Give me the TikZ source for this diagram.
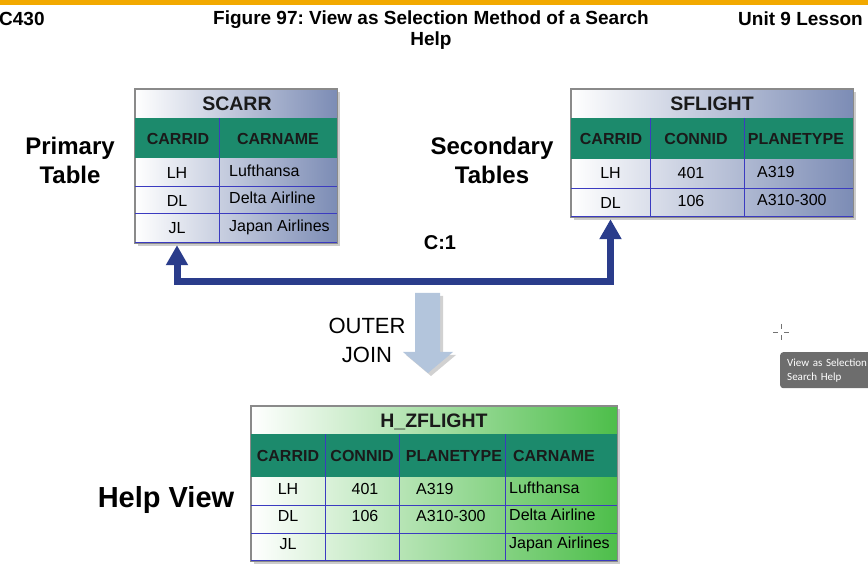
\documentclass[tikz,border=0pt]{standalone}
\usepackage{fontspec}
\setmainfont{Liberation Sans}
\newfontfamily\tipfont{Carlito}
\usetikzlibrary{shadows,arrows.meta}
\frenchspacing
\definecolor{orangebar}{HTML}{F2A900}
\definecolor{hdrgreen}{HTML}{1C8A6C}
\definecolor{framegray}{HTML}{8A8A8A}
\definecolor{sepblue}{HTML}{3B3BC0}
\definecolor{slateR}{HTML}{7C8CB5}
\definecolor{hzR}{HTML}{4DBE4A}
\definecolor{relblue}{HTML}{2A3C8B}
\definecolor{joinblue}{HTML}{B3C5DC}
\definecolor{tipgray}{HTML}{6D6D6D}
\definecolor{txtdark}{HTML}{1A1A1A}
\tikzset{
  tbl/.style={draw=framegray, line width=0.8pt, inner sep=0pt,
    drop shadow={shadow xshift=3pt, shadow yshift=-3pt, fill=black!40, opacity=0.5}},
  sepline/.style={draw=sepblue, line width=0.8pt},
  ttl/.style={font=\fontsize{19.5}{20}\selectfont\bfseries, text=txtdark, inner sep=0pt, text height=14pt, text depth=0pt},
  hdr/.style={font=\fontsize{16}{16}\selectfont\bfseries, text=txtdark, inner sep=0pt, text height=11.5pt, text depth=0pt},
  dat/.style={font=\fontsize{16}{16}\selectfont, text=black, inner sep=0pt, text height=11.5pt, text depth=0pt},
  datl/.style={dat, anchor=west},
  keycell/.style={dat, minimum width=#1},
  side/.style={font=\fontsize{24}{29}\selectfont\bfseries, align=center, text=black},
  hfont/.style={font=\fontsize{19}{21}\selectfont\bfseries, text=black},
  relarrow/.style={draw=relblue, line width=7pt, line join=miter,
    {Triangle[width=21pt,length=20pt]}-{Triangle[width=21pt,length=20pt]}},
}
\begin{document}
\begin{tikzpicture}[x=1pt,y=-1pt]
\useasboundingbox (0,0) rectangle (868,569);
\clip (0,0) rectangle (868,569);
\fill[orangebar] (0,0) rectangle (868,5);

% header texts
\node[hfont, anchor=west, inner sep=0pt] (course) at (-1,19) {C430};
\node[hfont, align=center, inner sep=0pt] (title) at (431,30) {Figure 97: View as Selection Method of a Search\\Help};
\node[hfont, anchor=east, inner sep=0pt] (unit) at (863,19) {Unit 9 Lesson};

% side labels
\node[side] (primary) at (70,160) {Primary\\Table};
\node[side] (secondary) at (492,160) {Secondary\\Tables};
\node[side, font=\fontsize{29}{30}\selectfont\bfseries] (helpview) at (166,500) {Help View};

% ---------- SCARR ----------
\node[tbl, left color=white, right color=slateR, minimum width=202pt, minimum height=154pt] (scarr) at (236,166) {};
\fill[hdrgreen] (135,118) rectangle (337,158);
\draw[sepline] (219,118) -- (219,243);
\draw[sepline] (135,186) -- (337,186);
\draw[sepline] (135,213) -- (337,213);
\draw[sepline] (135,242.5) -- (337,242.5);
\draw[framegray, line width=0.8pt] (scarr.north west) rectangle (scarr.south east);
\node[ttl] (scT) at (237,104) {SCARR};
\node[hdr] (scH1) at (178,139) {CARRID};
\node[hdr] (scH2) at (278,139) {CARNAME};
\node[keycell=84pt, minimum height=28pt] (scLH) at (177,173) {LH};
\node[keycell=84pt, minimum height=27pt] (scDL) at (177,200.5) {DL};
\node[keycell=84pt, minimum height=30pt] (scJL) at (177,228) {JL};
\node[datl] (scN1) at (229,171) {Lufthansa};
\node[datl] (scN2) at (229,198) {Delta Airline};
\node[datl] (scN3) at (229,226) {Japan Airlines};

% ---------- SFLIGHT ----------
\node[tbl, left color=white, right color=slateR, minimum width=282pt, minimum height=128pt] (sflight) at (712,153) {};
\fill[hdrgreen] (571,118) rectangle (853,159);
\draw[sepline] (650,118) -- (650,217);
\draw[sepline] (744,118) -- (744,217);
\draw[sepline] (571,188) -- (853,188);
\draw[sepline] (571,216.5) -- (853,216.5);
\draw[framegray, line width=0.8pt] (sflight.north west) rectangle (sflight.south east);
\node[ttl] (sfT) at (712,104) {SFLIGHT};
\node[hdr] (sfH1) at (611,139) {CARRID};
\node[hdr] (sfH2) at (696,139) {CONNID};
\node[hdr] (sfH3) at (796,139) {PLANETYPE};
\node[keycell=79pt, minimum height=29pt] (sfLH) at (610.5,173) {LH};
\node[keycell=79pt, minimum height=29pt] (sfDL) at (610.5,202.5) {DL};
\node[dat] (sfC1) at (691,172.5) {401};
\node[dat] (sfC2) at (691,200.5) {106};
\node[datl] (sfP1) at (757,172) {A319};
\node[datl] (sfP2) at (757,200) {A310-300};

% ---------- H_ZFLIGHT ----------
\node[tbl, left color=white, middle color=white!78!hzR, right color=hzR, minimum width=366pt, minimum height=155pt] (hz) at (434,483.5) {};
\fill[hdrgreen] (251,434) rectangle (617,477);
\draw[sepline] (325,434) -- (325,561);
\draw[sepline] (399,434) -- (399,561);
\draw[sepline] (505,434) -- (505,561);
\draw[sepline] (251,505) -- (617,505);
\draw[sepline] (251,533) -- (617,533);
\draw[sepline] (251,560.5) -- (617,560.5);
\draw[framegray, line width=0.8pt] (hz.north west) rectangle (hz.south east);
\node[ttl] (hzT) at (434,421) {H\_ZFLIGHT};
\node[hdr] (hzH1) at (288,455.5) {CARRID};
\node[hdr] (hzH2) at (362,455.5) {CONNID};
\node[hdr] (hzH3) at (454,455.5) {PLANETYPE};
\node[hdr] (hzH4) at (554,455.5) {CARNAME};
\node[dat] (hzK1) at (288,489) {LH};
\node[dat] (hzK2) at (288,516) {DL};
\node[dat] (hzK3) at (288,544) {JL};
\node[dat] (hzC1) at (365,488.5) {401};
\node[dat] (hzC2) at (365,515.5) {106};
\node[datl] (hzP1) at (416,488.5) {A319};
\node[datl] (hzP2) at (416,515.5) {A310-300};
\node[datl] (hzN1) at (509,488) {Lufthansa};
\node[datl] (hzN2) at (509,515) {Delta Airline};
\node[datl] (hzN3) at (509,542.5) {Japan Airlines};

% ---------- relationship arrow ----------
\draw[relarrow] ([yshift=-2pt]scJL.south) -- ++(0,36) coordinate (relL) -| ([yshift=-2pt]sfDL.south);
\node[font=\fontsize{20}{20}\selectfont\bfseries, inner sep=0pt] (card) at (440,243) {C:1};

% ---------- outer join arrow ----------
\fill[black!30, opacity=0.6] (418,296) -- (443,296) -- (443,355) -- (456,355) -- (431,376) -- (406,355) -- (418,355) -- cycle;
\fill[joinblue] (415,293) -- (440,293) -- (440,352) -- (453,352) -- (428,373) -- (403,352) -- (415,352) -- cycle;
\node[font=\fontsize{22}{29}\selectfont, align=center] (outerjoin) at (367,340) {OUTER\\JOIN};

% ---------- cursor and tooltip ----------
\draw[black!55, line width=0.6pt] (773,332) -- (778,332) (784,332) -- (789,332) (781,324) -- (781,329) (781,335) -- (781,340);
\node[fill=tipgray, rounded corners=3pt, anchor=north west, text=white, align=left, inner sep=0pt,
  text width=95pt, minimum height=36pt, inner xsep=7pt,
  font=\tipfont\fontsize{11}{14}\selectfont] (tooltip) at (780,352) {View as Selection\\Search Help};
\end{tikzpicture}
\end{document}
